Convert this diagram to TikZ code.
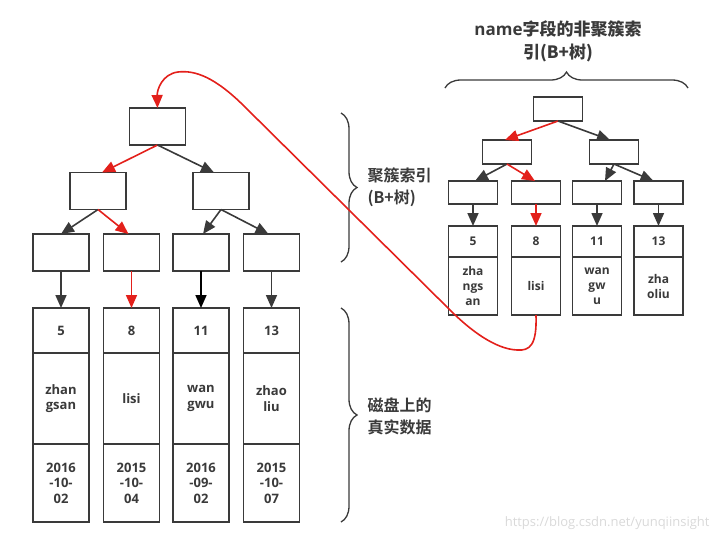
\documentclass[tikz,border=0pt]{standalone}
\usepackage{fontspec}
\setmainfont{Open Sans}
\newfontfamily\cjk{Noto Sans CJK SC}[UprightFont={* Bold}]
\usetikzlibrary{arrows.meta, positioning, decorations.pathreplacing}
\definecolor{inkgray}{HTML}{3A3A3A}
\definecolor{pathred}{HTML}{E3201B}

\tikzset{
  treebox/.style={draw=inkgray, line width=1.5pt, fill=white, inner sep=0pt, outer sep=0pt},
  bigbox/.style={treebox, minimum width=56pt, minimum height=37pt},
  smallbox/.style={treebox, minimum width=49pt, minimum height=24pt},
  cell/.style={treebox, text=inkgray, align=center,
    font=\bfseries\fontsize{13}{15.5}\selectfont},
  smallcell/.style={cell, minimum width=49pt,
    font=\bfseries\fontsize{12}{15}\selectfont},
  link/.style={draw=inkgray, line width=1.6pt, -{Triangle[length=13pt,width=11pt]}},
  redlink/.style={link, draw=pathred},
  curly/.style={draw=inkgray, line width=1.3pt, decorate,
    decoration={brace, amplitude=16pt}},
  tag/.style={text=inkgray, align=left, font=\cjk\fontsize{16}{22}\selectfont}
}

\begin{document}
\begin{tikzpicture}[x=1pt, y=-1pt]
  \useasboundingbox (0,0) rectangle (721,542);

  % clustered index (left tree)
  \node[bigbox] (root) at (157.5,126.5) {};
  \node[bigbox] (l2a) at (98,191) {};
  \node[bigbox] (l2b) at (221,191) {};
  \node[bigbox] (l3a) at (61,252.5) {};
  \node[bigbox] (l3b) at (131.5,252.5) {};
  \node[bigbox] (l3c) at (201,252.5) {};
  \node[bigbox] (l3d) at (271.5,252.5) {};

  \draw[redlink] (root.south) -- ([xshift=4pt]l2a.north);
  \draw[link]    (root.south) -- ([xshift=-7pt]l2b.north);
  \draw[link]    (l2a.south) -- (l3a.north);
  \draw[redlink] (l2a.south) -- ([xshift=-3pt]l3b.north);
  \draw[link]    (l2b.south) -- ([xshift=2pt]l3c.north);
  \draw[link]    (l2b.south) -- ([xshift=-3pt]l3d.north);

  % rows on disk
  \node[cell, minimum width=56pt, minimum height=45pt] (num5) at (61,330.5) {5};
  \node[cell, minimum width=56pt, minimum height=91pt, below=0pt of num5] (name5) {zhan\\gsan};
  \node[cell, minimum width=56pt, minimum height=78pt, below=0pt of name5] (date5) {2016\\-10-\\02};
  \node[cell, minimum width=56pt, minimum height=45pt] (num8) at (131.5,330.5) {8};
  \node[cell, minimum width=56pt, minimum height=91pt, below=0pt of num8] (name8) {lisi};
  \node[cell, minimum width=56pt, minimum height=78pt, below=0pt of name8] (date8) {2015\\-10-\\04};
  \node[cell, minimum width=56pt, minimum height=45pt] (num11) at (201,330.5) {11};
  \node[cell, minimum width=56pt, minimum height=91pt, below=0pt of num11] (name11) {wan\\gwu};
  \node[cell, minimum width=56pt, minimum height=78pt, below=0pt of name11] (date11) {2016\\-09-\\02};
  \node[cell, minimum width=56pt, minimum height=45pt] (num13) at (271.5,330.5) {13};
  \node[cell, minimum width=56pt, minimum height=91pt, below=0pt of num13] (name13) {zhao\\liu};
  \node[cell, minimum width=56pt, minimum height=78pt, below=0pt of name13] (date13) {2015\\-10-\\07};

  \draw[link]    (l3a.south) -- (num5.north);
  \draw[redlink] (l3b.south) -- (num8.north);
  \draw[link, draw=black] (l3c.south) -- (num11.north);
  \draw[link]    (l3d.south) -- (num13.north);

  % braces and their labels
  \draw[curly] (341,113) -- (341,262);
  \node[tag, anchor=west] (idxtag) at (364,187) {聚簇索引\\(B+树)};
  \draw[curly] (341,308) -- (341,522);
  \node[tag, anchor=west] (disktag) at (364,416) {磁盘上的\\真实数据};

  % secondary index on name (right tree)
  \node[text=inkgray, align=center, font=\bfseries\fontsize{17}{23}\selectfont] (title)
    at (558,41) {name{\cjk 字段的非聚簇索}\\{\cjk 引(B+树)}};
  \draw[curly] (445,88) -- (688,88);

  \node[smallbox] (sroot) at (558,109) {};
  \node[smallbox] (s2a) at (507,152) {};
  \node[smallbox] (s2b) at (614,152) {};
  \node[smallbox, minimum height=23pt] (s3a) at (473,192.5) {};
  \node[smallbox, minimum height=23pt] (s3b) at (536,192.5) {};
  \node[smallbox, minimum height=23pt] (s3c) at (597,192.5) {};
  \node[smallbox, minimum height=23pt] (s3d) at (658.5,192.5) {};

  \draw[redlink] (sroot.south) -- ([xshift=-2pt]s2a.north);
  \draw[link]    (sroot.south) -- ([xshift=-4pt]s2b.north);
  \draw[link]    (s2a.south) -- ([xshift=2pt]s3a.north);
  \draw[redlink] (s2a.south) -- ([xshift=-1pt]s3b.north);
  \draw[link]    (s2b.south) -- ([xshift=8pt]s3c.north);
  \draw[link]    (s2b.south) -- ([xshift=-5pt]s3d.north);

  \node[smallcell, minimum height=31pt] (snum5) at (473,241.5) {5};
  \node[smallcell, minimum height=58pt, below=0pt of snum5] (sname5) {zha\\ngs\\an};
  \node[smallcell, minimum height=31pt] (snum8) at (536,241.5) {8};
  \node[smallcell, minimum height=58pt, below=0pt of snum8] (sname8) {lisi};
  \node[smallcell, minimum height=31pt] (snum11) at (597,241.5) {11};
  \node[smallcell, minimum height=58pt, below=0pt of snum11] (sname11) {wan\\gw\\u};
  \node[smallcell, minimum height=31pt] (snum13) at (658.5,241.5) {13};
  \node[smallcell, minimum height=58pt, below=0pt of snum13] (sname13) {zha\\oliu};

  \draw[link]    (s3a.south) -- (snum5.north);
  \draw[redlink] (s3b.south) -- (snum8.north);
  \draw[link]    (s3c.south) -- (snum11.north);
  \draw[link]    (s3d.south) -- (snum13.north);

  % back to the clustered index
  \draw[redlink] (sname8.south) .. controls (537,345) and (530,351) .. (517,350)
    .. controls (495,349) and (470,330) .. (450,310)
    -- (245,107)
    .. controls (215,77) and (195,70) .. (178,72)
    .. controls (162,74) and (157,90) .. (root.north);

  \node[text=gray!30, font=\fontsize{13}{15}\selectfont, anchor=east] (mark)
    at (713,523) {https://blog.csdn.net/yunqiinsight};
\end{tikzpicture}
\end{document}
